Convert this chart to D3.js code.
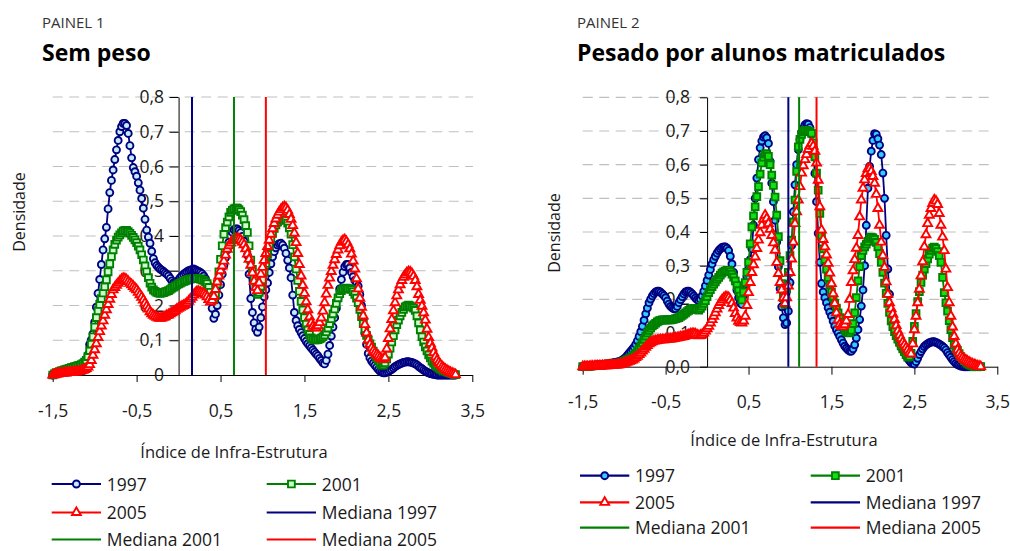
<!DOCTYPE html>
<html>
<head>
<meta charset="utf-8">
<script src="https://cdn.jsdelivr.net/npm/d3@7"></script>
<style>
  body { margin: 0; background: #fff; }
  svg { display: block; }
</style>
</head>
<body>
<svg id="chart" width="1010" height="551"></svg>
<script>
// Kernel density of the infrastructure index, evaluated on a regular grid
const gridStart = -1.5;
const gridStep = 0.02;

const xTickValues = [-1.5, -0.5, 0.5, 1.5, 2.5, 3.5];
const xTickLabels = ["-1,5", "-0,5", "0,5", "1,5", "2,5", "3,5"];
const yTickValues = [0, 0.1, 0.2, 0.3, 0.4, 0.5, 0.6, 0.7, 0.8];
const yTickLabelsSemPeso = ["0", "0,1", "0,2", "0,3", "0,4", "0,5", "0,6", "0,7", "0,8"];
const yTickLabelsPesado = ["0,0", "0,1", "0,2", "0,3", "0,4", "0,5", "0,6", "0,7", "0,8"];

const seriesNames = ["1997", "2001", "2005"];
const medianNames = ["Mediana 1997", "Mediana 2001", "Mediana 2005"];

// Painel 1 — sem peso (one row = 0.4 units of the index)
const semPeso1997 = [
  0, 0.003, 0.005, 0.007, 0.008, 0.009, 0.010, 0.011, 0.012, 0.013, 0.014, 0.015, 0.016, 0.017, 0.018, 0.019, 0.021, 0.023, 0.025, 0.029,
  0.035, 0.058, 0.088, 0.101, 0.118, 0.152, 0.195, 0.235, 0.275, 0.318, 0.360, 0.392, 0.425, 0.478, 0.525, 0.560, 0.590, 0.620, 0.648, 0.675,
  0.700, 0.715, 0.724, 0.724, 0.718, 0.695, 0.660, 0.625, 0.597, 0.585, 0.572, 0.553, 0.532, 0.508, 0.480, 0.448, 0.417, 0.397, 0.379, 0.356,
  0.335, 0.323, 0.315, 0.310, 0.305, 0.302, 0.298, 0.294, 0.290, 0.285, 0.278, 0.271, 0.266, 0.265, 0.268, 0.274, 0.280, 0.285, 0.290, 0.294,
  0.297, 0.300, 0.302, 0.304, 0.305, 0.303, 0.300, 0.298, 0.295, 0.291, 0.285, 0.277, 0.265, 0.248, 0.225, 0.192, 0.163, 0.175, 0.200, 0.230,
  0.260, 0.290, 0.315, 0.338, 0.360, 0.382, 0.400, 0.411, 0.418, 0.420, 0.420, 0.416, 0.410, 0.399, 0.385, 0.368, 0.345, 0.290, 0.220, 0.180,
  0.150, 0.132, 0.123, 0.138, 0.165, 0.196, 0.225, 0.245, 0.265, 0.295, 0.320, 0.340, 0.355, 0.366, 0.374, 0.378, 0.379, 0.374, 0.365, 0.350,
  0.330, 0.308, 0.280, 0.230, 0.180, 0.157, 0.142, 0.131, 0.122, 0.113, 0.105, 0.097, 0.090, 0.084, 0.078, 0.072, 0.066, 0.060, 0.055, 0.048,
  0.042, 0.035, 0.032, 0.042, 0.060, 0.085, 0.112, 0.138, 0.165, 0.192, 0.220, 0.248, 0.275, 0.296, 0.312, 0.318, 0.318, 0.308, 0.295, 0.283,
  0.272, 0.265, 0.256, 0.232, 0.200, 0.160, 0.120, 0.088, 0.062, 0.049, 0.040, 0.034, 0.028, 0.022, 0.016, 0.011, 0.008, 0.006, 0.006, 0.008,
  0.010, 0.013, 0.016, 0.020, 0.024, 0.027, 0.030, 0.032, 0.034, 0.036, 0.037, 0.038, 0.038, 0.037, 0.036, 0.034, 0.032, 0.029, 0.025, 0.021,
  0.018, 0.014, 0.011, 0.008, 0.006, 0.004, 0.003, 0.002, 0.001, 0, 0, 0, 0, 0, 0, 0, 0, 0, 0, 0,
  0
];
const semPeso2001 = [
  0, 0.003, 0.006, 0.008, 0.010, 0.012, 0.013, 0.015, 0.016, 0.018, 0.019, 0.021, 0.022, 0.024, 0.025, 0.027, 0.028, 0.030, 0.033, 0.037,
  0.042, 0.053, 0.070, 0.089, 0.110, 0.138, 0.165, 0.185, 0.203, 0.220, 0.236, 0.254, 0.274, 0.297, 0.320, 0.341, 0.360, 0.376, 0.388, 0.397,
  0.403, 0.409, 0.414, 0.416, 0.416, 0.413, 0.408, 0.402, 0.396, 0.389, 0.381, 0.371, 0.360, 0.346, 0.331, 0.314, 0.297, 0.280, 0.264, 0.253,
  0.245, 0.241, 0.238, 0.236, 0.235, 0.236, 0.237, 0.239, 0.241, 0.243, 0.246, 0.250, 0.253, 0.256, 0.259, 0.262, 0.264, 0.267, 0.269, 0.271,
  0.273, 0.275, 0.276, 0.277, 0.278, 0.278, 0.278, 0.277, 0.276, 0.274, 0.272, 0.268, 0.263, 0.252, 0.238, 0.224, 0.216, 0.232, 0.262, 0.297,
  0.333, 0.372, 0.405, 0.424, 0.440, 0.455, 0.468, 0.474, 0.478, 0.480, 0.480, 0.476, 0.470, 0.460, 0.447, 0.430, 0.410, 0.372, 0.331, 0.304,
  0.278, 0.254, 0.232, 0.238, 0.255, 0.274, 0.296, 0.321, 0.347, 0.370, 0.390, 0.408, 0.422, 0.432, 0.440, 0.445, 0.448, 0.450, 0.451, 0.446,
  0.437, 0.423, 0.405, 0.375, 0.340, 0.305, 0.272, 0.241, 0.212, 0.187, 0.165, 0.146, 0.130, 0.117, 0.107, 0.103, 0.101, 0.101, 0.102, 0.104,
  0.106, 0.110, 0.115, 0.124, 0.135, 0.148, 0.162, 0.176, 0.190, 0.206, 0.222, 0.234, 0.243, 0.247, 0.249, 0.250, 0.249, 0.248, 0.246, 0.240,
  0.232, 0.221, 0.208, 0.189, 0.168, 0.148, 0.130, 0.114, 0.101, 0.090, 0.080, 0.069, 0.058, 0.050, 0.043, 0.035, 0.028, 0.029, 0.035, 0.046,
  0.060, 0.077, 0.095, 0.113, 0.130, 0.145, 0.158, 0.170, 0.180, 0.189, 0.196, 0.199, 0.201, 0.199, 0.196, 0.192, 0.186, 0.170, 0.150, 0.130,
  0.110, 0.095, 0.081, 0.069, 0.058, 0.049, 0.040, 0.034, 0.028, 0.024, 0.020, 0.017, 0.014, 0.012, 0.011, 0.009, 0.007, 0.005, 0.004, 0.002,
  0.001
];
const semPeso2005 = [
  0, 0.001, 0.002, 0.003, 0.004, 0.005, 0.005, 0.006, 0.006, 0.007, 0.007, 0.008, 0.008, 0.009, 0.009, 0.010, 0.010, 0.012, 0.014, 0.016,
  0.019, 0.023, 0.030, 0.042, 0.057, 0.073, 0.090, 0.108, 0.125, 0.141, 0.156, 0.172, 0.188, 0.203, 0.218, 0.232, 0.245, 0.252, 0.258, 0.264,
  0.270, 0.275, 0.278, 0.277, 0.274, 0.269, 0.264, 0.260, 0.255, 0.250, 0.245, 0.238, 0.231, 0.224, 0.216, 0.207, 0.198, 0.190, 0.182, 0.176,
  0.172, 0.169, 0.166, 0.164, 0.163, 0.164, 0.166, 0.168, 0.171, 0.173, 0.176, 0.179, 0.182, 0.185, 0.189, 0.192, 0.195, 0.198, 0.200, 0.203,
  0.207, 0.212, 0.218, 0.224, 0.230, 0.236, 0.240, 0.240, 0.238, 0.236, 0.234, 0.230, 0.225, 0.217, 0.210, 0.215, 0.226, 0.246, 0.268, 0.285,
  0.300, 0.314, 0.328, 0.345, 0.362, 0.372, 0.380, 0.386, 0.390, 0.392, 0.393, 0.391, 0.388, 0.382, 0.375, 0.363, 0.348, 0.333, 0.316, 0.294,
  0.270, 0.252, 0.243, 0.265, 0.290, 0.310, 0.330, 0.350, 0.370, 0.388, 0.405, 0.421, 0.436, 0.449, 0.460, 0.469, 0.476, 0.481, 0.484, 0.481,
  0.474, 0.462, 0.448, 0.430, 0.408, 0.381, 0.350, 0.318, 0.285, 0.258, 0.235, 0.211, 0.188, 0.167, 0.150, 0.140, 0.135, 0.136, 0.142, 0.151,
  0.164, 0.184, 0.208, 0.233, 0.258, 0.279, 0.298, 0.316, 0.332, 0.347, 0.360, 0.372, 0.382, 0.387, 0.389, 0.384, 0.375, 0.363, 0.348, 0.328,
  0.305, 0.277, 0.248, 0.221, 0.195, 0.170, 0.145, 0.121, 0.101, 0.088, 0.078, 0.070, 0.064, 0.059, 0.055, 0.050, 0.046, 0.045, 0.050, 0.075,
  0.105, 0.133, 0.160, 0.185, 0.208, 0.228, 0.245, 0.260, 0.272, 0.281, 0.288, 0.294, 0.297, 0.296, 0.292, 0.284, 0.272, 0.254, 0.232, 0.215,
  0.198, 0.179, 0.158, 0.132, 0.108, 0.091, 0.078, 0.064, 0.052, 0.043, 0.036, 0.030, 0.024, 0.020, 0.016, 0.013, 0.010, 0.007, 0.005, 0.003,
  0.001
];
const medianasSemPeso = [0.16, 0.66, 1.04];

// Painel 2 — pesado por alunos matriculados
const pesado1997 = [
  0, 0.001, 0.002, 0.002, 0.003, 0.003, 0.004, 0.004, 0.005, 0.005, 0.006, 0.006, 0.007, 0.007, 0.008, 0.008, 0.009, 0.010, 0.011, 0.012,
  0.013, 0.014, 0.015, 0.017, 0.020, 0.024, 0.028, 0.034, 0.040, 0.046, 0.052, 0.058, 0.066, 0.077, 0.090, 0.104, 0.120, 0.138, 0.157, 0.174,
  0.190, 0.201, 0.210, 0.217, 0.222, 0.224, 0.224, 0.221, 0.216, 0.211, 0.205, 0.195, 0.186, 0.179, 0.175, 0.172, 0.172, 0.179, 0.190, 0.199,
  0.208, 0.216, 0.222, 0.224, 0.224, 0.221, 0.216, 0.210, 0.204, 0.199, 0.196, 0.200, 0.210, 0.224, 0.240, 0.256, 0.272, 0.289, 0.305, 0.318,
  0.328, 0.337, 0.345, 0.350, 0.354, 0.356, 0.356, 0.352, 0.345, 0.328, 0.305, 0.280, 0.252, 0.227, 0.205, 0.190, 0.185, 0.212, 0.245, 0.267,
  0.290, 0.318, 0.350, 0.420, 0.500, 0.560, 0.615, 0.650, 0.670, 0.682, 0.686, 0.680, 0.663, 0.610, 0.545, 0.490, 0.435, 0.370, 0.297, 0.232,
  0.178, 0.145, 0.125, 0.130, 0.165, 0.250, 0.360, 0.460, 0.540, 0.600, 0.645, 0.675, 0.695, 0.708, 0.718, 0.722, 0.720, 0.710, 0.690, 0.645,
  0.574, 0.490, 0.396, 0.310, 0.247, 0.222, 0.205, 0.190, 0.175, 0.162, 0.150, 0.135, 0.121, 0.110, 0.100, 0.090, 0.080, 0.070, 0.061, 0.055,
  0.050, 0.046, 0.046, 0.053, 0.065, 0.085, 0.110, 0.140, 0.180, 0.228, 0.300, 0.420, 0.530, 0.595, 0.640, 0.672, 0.692, 0.690, 0.677, 0.658,
  0.630, 0.575, 0.500, 0.390, 0.290, 0.215, 0.165, 0.138, 0.118, 0.100, 0.084, 0.072, 0.060, 0.051, 0.042, 0.033, 0.025, 0.018, 0.012, 0.009,
  0.008, 0.015, 0.025, 0.036, 0.045, 0.053, 0.060, 0.065, 0.068, 0.071, 0.073, 0.074, 0.074, 0.072, 0.070, 0.067, 0.064, 0.060, 0.056, 0.050,
  0.042, 0.035, 0.028, 0.021, 0.015, 0.010, 0.006, 0.004, 0.002, 0.001, 0, 0, 0, 0, 0, 0, 0, 0, 0, 0,
  0
];
const pesado2001 = [
  0, 0, 0, 0.001, 0.001, 0.002, 0.002, 0.003, 0.003, 0.004, 0.004, 0.005, 0.005, 0.006, 0.006, 0.007, 0.007, 0.008, 0.008, 0.009,
  0.009, 0.010, 0.010, 0.012, 0.014, 0.016, 0.019, 0.021, 0.024, 0.026, 0.029, 0.034, 0.040, 0.046, 0.053, 0.062, 0.071, 0.081, 0.091, 0.100,
  0.108, 0.115, 0.121, 0.125, 0.129, 0.133, 0.136, 0.138, 0.139, 0.139, 0.139, 0.139, 0.139, 0.139, 0.140, 0.141, 0.143, 0.144, 0.146, 0.149,
  0.152, 0.156, 0.160, 0.164, 0.167, 0.170, 0.172, 0.173, 0.172, 0.170, 0.168, 0.173, 0.180, 0.188, 0.196, 0.208, 0.220, 0.229, 0.238, 0.245,
  0.252, 0.259, 0.265, 0.272, 0.278, 0.282, 0.284, 0.286, 0.287, 0.282, 0.275, 0.266, 0.255, 0.241, 0.226, 0.210, 0.198, 0.222, 0.250, 0.280,
  0.310, 0.365, 0.415, 0.448, 0.475, 0.505, 0.535, 0.572, 0.605, 0.622, 0.632, 0.632, 0.625, 0.600, 0.569, 0.538, 0.504, 0.450, 0.386, 0.315,
  0.247, 0.205, 0.185, 0.230, 0.280, 0.330, 0.376, 0.430, 0.495, 0.580, 0.653, 0.675, 0.690, 0.698, 0.702, 0.702, 0.700, 0.698, 0.693, 0.665,
  0.623, 0.575, 0.524, 0.455, 0.390, 0.350, 0.318, 0.290, 0.265, 0.243, 0.222, 0.204, 0.188, 0.174, 0.160, 0.146, 0.132, 0.120, 0.110, 0.104,
  0.100, 0.101, 0.108, 0.128, 0.160, 0.205, 0.255, 0.297, 0.330, 0.345, 0.356, 0.364, 0.372, 0.380, 0.385, 0.383, 0.378, 0.369, 0.356, 0.336,
  0.310, 0.280, 0.248, 0.218, 0.188, 0.161, 0.136, 0.119, 0.104, 0.092, 0.082, 0.072, 0.062, 0.053, 0.045, 0.036, 0.028, 0.030, 0.040, 0.075,
  0.120, 0.158, 0.193, 0.223, 0.250, 0.272, 0.290, 0.306, 0.320, 0.334, 0.345, 0.352, 0.355, 0.351, 0.342, 0.330, 0.310, 0.265, 0.220, 0.190,
  0.165, 0.137, 0.110, 0.086, 0.065, 0.055, 0.048, 0.039, 0.030, 0.024, 0.018, 0.014, 0.010, 0.007, 0.004, 0.002, 0, 0, 0, 0,
  0
];
const pesado2005 = [
  0, 0, 0, 0, 0, 0.001, 0.001, 0.001, 0.002, 0.002, 0.002, 0.002, 0.003, 0.003, 0.003, 0.003, 0.004, 0.004, 0.004, 0.004,
  0.005, 0.005, 0.006, 0.007, 0.009, 0.010, 0.012, 0.014, 0.016, 0.018, 0.020, 0.023, 0.027, 0.031, 0.036, 0.041, 0.047, 0.052, 0.058, 0.063,
  0.068, 0.071, 0.074, 0.076, 0.077, 0.078, 0.079, 0.080, 0.080, 0.080, 0.081, 0.081, 0.082, 0.082, 0.083, 0.084, 0.085, 0.086, 0.087, 0.088,
  0.089, 0.090, 0.092, 0.093, 0.095, 0.097, 0.098, 0.098, 0.097, 0.094, 0.092, 0.093, 0.095, 0.100, 0.106, 0.113, 0.120, 0.130, 0.140, 0.150,
  0.160, 0.171, 0.182, 0.191, 0.198, 0.203, 0.207, 0.207, 0.205, 0.198, 0.188, 0.174, 0.158, 0.145, 0.135, 0.131, 0.130, 0.136, 0.150, 0.182,
  0.220, 0.250, 0.280, 0.303, 0.326, 0.351, 0.376, 0.398, 0.420, 0.438, 0.450, 0.440, 0.425, 0.408, 0.390, 0.368, 0.346, 0.310, 0.277, 0.250,
  0.228, 0.205, 0.188, 0.205, 0.240, 0.280, 0.320, 0.370, 0.425, 0.460, 0.495, 0.535, 0.575, 0.597, 0.615, 0.630, 0.645, 0.656, 0.663, 0.655,
  0.640, 0.605, 0.554, 0.475, 0.406, 0.378, 0.356, 0.332, 0.307, 0.278, 0.247, 0.217, 0.188, 0.160, 0.139, 0.126, 0.120, 0.119, 0.125, 0.136,
  0.155, 0.200, 0.250, 0.285, 0.318, 0.352, 0.390, 0.445, 0.495, 0.530, 0.555, 0.574, 0.588, 0.588, 0.580, 0.565, 0.545, 0.512, 0.470, 0.420,
  0.370, 0.330, 0.295, 0.252, 0.215, 0.190, 0.172, 0.156, 0.140, 0.122, 0.106, 0.094, 0.083, 0.073, 0.065, 0.057, 0.050, 0.042, 0.038, 0.068,
  0.110, 0.150, 0.190, 0.230, 0.270, 0.312, 0.356, 0.392, 0.425, 0.450, 0.470, 0.485, 0.495, 0.492, 0.482, 0.455, 0.420, 0.385, 0.345, 0.290,
  0.235, 0.190, 0.150, 0.118, 0.090, 0.068, 0.050, 0.040, 0.032, 0.027, 0.022, 0.019, 0.016, 0.013, 0.010, 0.008, 0.006, 0.004, 0.002, 0.001,
  0
];
const medianasPesado = [0.98, 1.11, 1.32];

const FONT = "'Open Sans', 'Noto Sans', sans-serif";
const strokeColors = ["#000080", "#008000", "#ff0000"];
const symbolTypes = [d3.symbolCircle, d3.symbolSquare, d3.symbolTriangle];
const symbolSizes = [38, 46, 34];

const panels = [
  {
    painel: "PAINEL 1", titulo: "Sem peso",
    series: [semPeso1997, semPeso2001, semPeso2005],
    medianas: medianasSemPeso, yLabels: yTickLabelsSemPeso,
    fills: ["#c4ecf8", "#ccffcc", "#ffffff"],
    xRange: [52.7, 472.3], yRange: [375, 97], gridEnd: 473,
    headX: 42, yTitle: [25, 212], xTitle: [234, 458],
    xLabelBase: 417, yLabelRight: 164, tickX: 7, tickY: 9,
    legendCols: [51.7, 266.7], legendRows: [484, 512.5, 539.5]
  },
  {
    painel: "PAINEL 2", titulo: "Pesado por alunos matriculados",
    series: [pesado1997, pesado2001, pesado2005],
    medianas: medianasPesado, yLabels: yTickLabelsPesado,
    fills: ["#33ccff", "#11e011", "#ffffff"],
    xRange: [582.7, 997.3], yRange: [366.7, 97.3], gridEnd: 991,
    headX: 577, yTitle: [560, 233], xTitle: [784, 446],
    xLabelBase: 408, yLabelRight: 690, tickX: 8, tickY: 7,
    legendCols: [580, 810.7], legendRows: [475.7, 502.3, 527.7]
  }
];

const svg = d3.select("#chart");

panels.forEach(p => {
  const g = svg.append("g");
  const x = d3.scaleLinear().domain([-1.5, 3.5]).range(p.xRange);
  const y = d3.scaleLinear().domain([0, 0.8]).range(p.yRange);

  // headings
  g.append("text").attr("x", p.headX).attr("y", 28)
    .attr("font-family", FONT).attr("font-size", 15).attr("fill", "#333")
    .text(p.painel);
  g.append("text").attr("x", p.headX).attr("y", 61)
    .attr("font-family", FONT).attr("font-size", 23).attr("font-weight", 700).attr("fill", "#000")
    .text(p.titulo);

  // dashed horizontal gridlines
  g.append("g").selectAll("line")
    .data(yTickValues.filter(v => v > 0))
    .join("line")
    .attr("x1", p.xRange[0]).attr("x2", p.gridEnd)
    .attr("y1", d => y(d)).attr("y2", d => y(d))
    .attr("stroke", "#c0c0c0").attr("stroke-width", 1.2)
    .attr("stroke-dasharray", "10,6.5");

  // x axis
  const gx = g.append("g")
    .attr("transform", `translate(0,${y(0)})`)
    .call(d3.axisBottom(x).tickValues(xTickValues)
      .tickFormat((d, i) => xTickLabels[i]).tickSize(p.tickX).tickSizeOuter(0));
  gx.selectAll(".tick text").attr("dy", null).attr("y", p.xLabelBase - y(0))
    .attr("font-size", 17.5).attr("font-family", FONT).attr("fill", "#1a1a1a");

  // y axis, crossing at x = 0
  const gy = g.append("g")
    .attr("transform", `translate(${x(0)},0)`)
    .call(d3.axisLeft(y).tickValues(yTickValues)
      .tickFormat((d, i) => p.yLabels[i]).tickSize(p.tickY).tickSizeOuter(0));
  gy.selectAll(".tick text").attr("x", p.yLabelRight - x(0))
    .attr("font-size", 17.5).attr("font-family", FONT).attr("fill", "#1a1a1a");
  [gx, gy].forEach(a => {
    a.select(".domain").attr("stroke", "#000");
    a.selectAll(".tick line").attr("stroke", "#000");
  });

  // axis titles
  g.append("text")
    .attr("transform", `translate(${p.yTitle[0]},${p.yTitle[1]}) rotate(-90)`)
    .attr("text-anchor", "middle").attr("font-family", FONT).attr("font-size", 16)
    .attr("fill", "#1a1a1a").text("Densidade");
  g.append("text").attr("x", p.xTitle[0]).attr("y", p.xTitle[1])
    .attr("text-anchor", "middle").attr("font-family", FONT).attr("font-size", 16.5)
    .attr("fill", "#1a1a1a").text("Índice de Infra-Estrutura");

  // density curves with markers
  const line = d3.line().x(d => x(d.x)).y(d => y(d.v));
  p.series.forEach((vals, si) => {
    const pts = vals.map((v, i) => ({ x: gridStart + i * gridStep, v }));
    const sg = g.append("g");
    sg.append("path").datum(pts).attr("d", line)
      .attr("fill", "none").attr("stroke", strokeColors[si]).attr("stroke-width", 1.8);
    const sym = d3.symbol().type(symbolTypes[si]).size(symbolSizes[si]);
    sg.selectAll("path.m").data(pts).join("path").attr("class", "m")
      .attr("d", sym)
      .attr("transform", d => `translate(${x(d.x)},${y(d.v)})`)
      .attr("fill", p.fills[si]).attr("stroke", strokeColors[si]).attr("stroke-width", 1.9);
  });

  // medians
  g.append("g").selectAll("line").data(p.medianas).join("line")
    .attr("x1", d => x(d)).attr("x2", d => x(d))
    .attr("y1", y(0)).attr("y2", y(0.8))
    .attr("stroke", (d, i) => strokeColors[i]).attr("stroke-width", 2);

  // legend: two columns, filled row by row
  const items = [
    { label: seriesNames[0], s: 0, marker: true },
    { label: seriesNames[1], s: 1, marker: true },
    { label: seriesNames[2], s: 2, marker: true },
    { label: medianNames[0], s: 0, marker: false },
    { label: medianNames[1], s: 1, marker: false },
    { label: medianNames[2], s: 2, marker: false }
  ];
  const lg = g.append("g");
  items.forEach((it, k) => {
    const lx = p.legendCols[k % 2];
    const ly = p.legendRows[Math.floor(k / 2)];
    lg.append("line").attr("x1", lx).attr("x2", lx + 49.3).attr("y1", ly).attr("y2", ly)
      .attr("stroke", strokeColors[it.s]).attr("stroke-width", 2.2);
    if (it.marker) {
      lg.append("path")
        .attr("d", d3.symbol().type(symbolTypes[it.s]).size(symbolSizes[it.s])())
        .attr("transform", `translate(${lx + 24.7},${ly})`)
        .attr("fill", p.fills[it.s]).attr("stroke", strokeColors[it.s]).attr("stroke-width", 1.9);
    }
    lg.append("text").attr("x", lx + 55).attr("y", ly + 6.5)
      .attr("font-family", FONT).attr("font-size", 17.5).attr("fill", "#1a1a1a")
      .text(it.label);
  });
});
</script>
</body>
</html>
